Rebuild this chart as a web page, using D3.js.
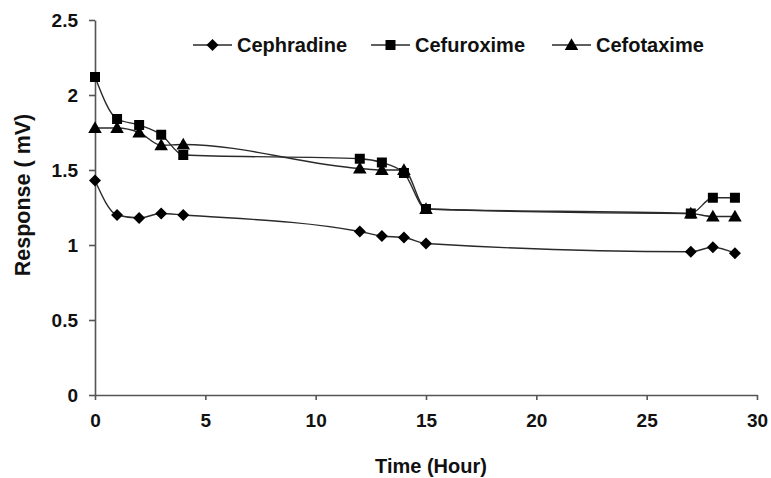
<!DOCTYPE html>
<html><head><meta charset="utf-8">
<script src="https://cdn.jsdelivr.net/npm/d3@7"></script>
<style>body{margin:0;background:#fff}svg{display:block}text{font-family:"Liberation Sans",Arial,sans-serif;font-weight:bold;fill:#111}</style>
</head><body><svg id="c" width="771" height="478"></svg>
<script>
const times = [0,1,2,3,4,12,13,14,15,27,28,29];
const cephradine = [1.43,1.20,1.18,1.21,1.20,1.09,1.06,1.05,1.01,0.955,0.985,0.945];
const cefuroxime = [2.12,1.84,1.80,1.735,1.60,1.575,1.55,1.48,1.24,1.21,1.315,1.315];
const cefotaxime = [1.78,1.78,1.75,1.665,1.67,1.51,1.50,1.50,1.24,1.21,1.19,1.19];
const seriesNames = ["Cephradine","Cefuroxime","Cefotaxime"];
const xTicks = [0,5,10,15,20,25,30];
const yTicks = [0,0.5,1,1.5,2,2.5];

const svg = d3.select("#c");
const x = d3.scaleLinear().domain([0,30]).range([95,757]);
const y = d3.scaleLinear().domain([0,2.5]).range([395,20]);
const axisColor = "#555";

const xa = svg.append("g").attr("transform","translate(0,395)")
  .call(d3.axisBottom(x).tickValues(xTicks).tickSize(5).tickSizeOuter(0).tickPadding(14));
const ya = svg.append("g").attr("transform","translate(95,0)")
  .call(d3.axisLeft(y).tickValues(yTicks).tickFormat(d=>String(d)).tickSize(6).tickSizeOuter(0).tickPadding(11));
[xa,ya].forEach(g=>{
  g.selectAll("path,line").attr("stroke",axisColor).attr("stroke-width",1.6);
  g.selectAll("text").style("font-size","19px").attr("fill","#111");
});

svg.append("text").attr("x",431).attr("y",473).attr("text-anchor","middle").style("font-size","20px").text("Time (Hour)");
svg.append("text").attr("transform","translate(30,195) rotate(-90)").attr("text-anchor","middle").style("font-size","21.5px").text("Response ( mV)");

const data = [cephradine,cefuroxime,cefotaxime];
const syms = [d3.symbolSquare, d3.symbolSquare, d3.symbolTriangle];
const symSize = [72,100,80];
const line = d3.line().x((d,i)=>x(times[i])).y(d=>y(d)).curve(d3.curveMonotoneX);

data.forEach((vals,k)=>{
  svg.append("path").datum(vals).attr("d",line).attr("fill","none").attr("stroke","#2a2a2a").attr("stroke-width",1.4);
});
data.forEach((vals,k)=>{
  const sym = d3.symbol().type(syms[k]).size(symSize[k]);
  svg.append("g").selectAll("path").data(vals).join("path")
    .attr("d",sym)
    .attr("transform",(d,i)=>`translate(${x(times[i])},${y(d)+(k===2?1:0)})${k===0?" rotate(45)":""}`)
    .attr("fill","#000");
});

// legend
const legX = [193,371,552];
seriesNames.forEach((n,k)=>{
  const g = svg.append("g").attr("transform",`translate(${legX[k]},45)`);
  g.append("line").attr("x1",0).attr("x2",39).attr("stroke","#2a2a2a").attr("stroke-width",1.4);
  const sym = d3.symbol().type(syms[k]).size(symSize[k]);
  g.append("path").attr("d",sym).attr("transform",`translate(19.5,${k===2?1:0})${k===0?" rotate(45)":""}`).attr("fill","#000");
  g.append("text").attr("x",44).attr("y",7).style("font-size","20px").text(n);
});
</script></body></html>
